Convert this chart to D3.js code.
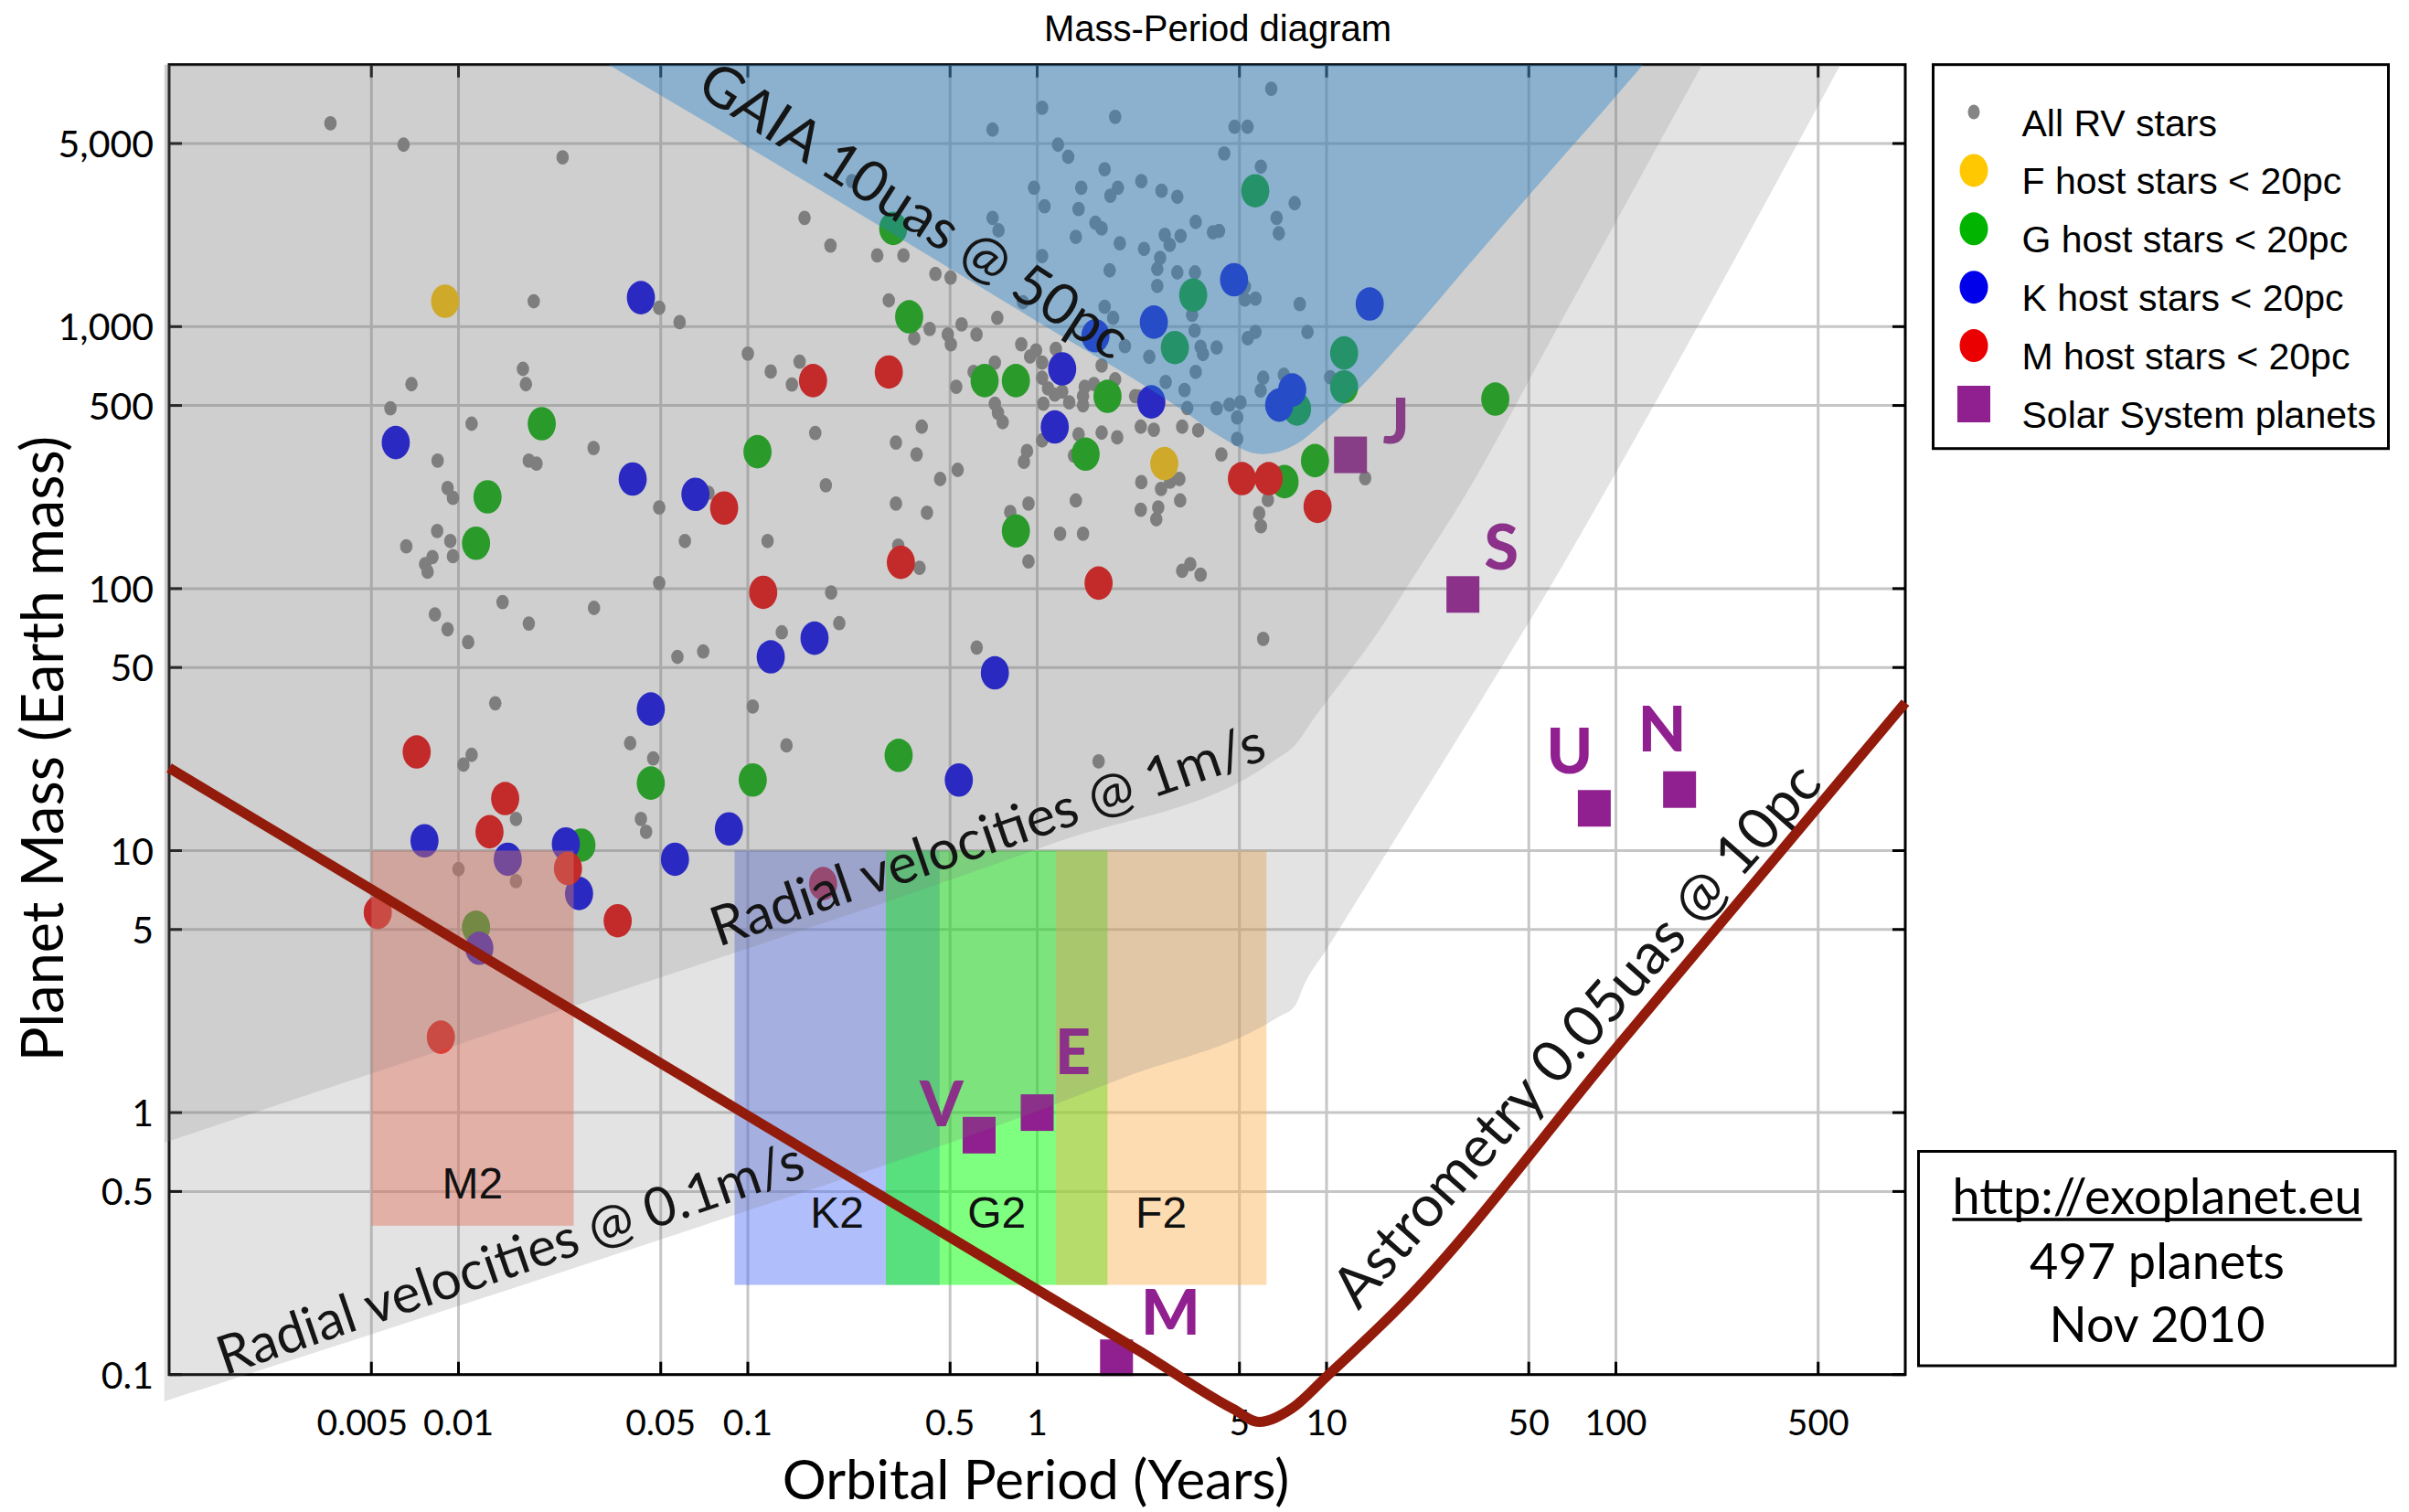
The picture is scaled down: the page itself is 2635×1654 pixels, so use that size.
<!DOCTYPE html>
<html>
<head>
<meta charset="utf-8">
<script src="https://cdn.jsdelivr.net/npm/d3@7"></script>
<style>
  html, body { margin: 0; padding: 0; background: #fff; }
  svg { display: block; }
</style>
</head>
<body>
<svg id="chart" width="2635" height="1654"></svg>
<script>
// ---------------- data ----------------
const xTickValues = [0.005, 0.01, 0.05, 0.1, 0.5, 1, 5, 10, 50, 100, 500];
const xTickLabels = ["0.005", "0.01", "0.05", "0.1", "0.5", "1", "5", "10", "50", "100", "500"];
const yTickValues = [0.1, 0.5, 1, 5, 10, 50, 100, 500, 1000, 5000];
const yTickLabels = ["0.1", "0.5", "1", "5", "10", "50", "100", "500", "1,000", "5,000"];

// All radial-velocity planets: orbital period (years) and mass (Earth masses)
const rvPeriod = [
  0.00361,0.00646,0.0229,0.157,0.0182,0.0494,0.0581,0.1,0.0167,0.12,0.151,0.142,0.00688,0.0171,0.00582,0.0111,0.0293,0.00847,0.0175,0.0186,
  0.171,0.00917,0.00957,0.0494,0.0731,0.00844,0.00937,0.0066,0.00813,0.00957,0.00767,0.00782,0.0606,0.117,0.0494,0.0142,0.0294,0.00829,0.0175,0.00917,
  0.0108,0.131,0.0571,0.0701,0.0134,0.104,0.0392,0.136,0.0111,0.0104,0.0471,0.0158,0.0427,0.0445,0.01,0.0158,
  6.44,1.04,1.86,0.701,4.81,5.33,1.18,1.28,4.43,5.93,1.71,0.229,2.29,0.975,1.42,1.9,1.79,2.69,3.05,1.06,
  1.39,7.76,0.701,6.72,1.59,3.53,0.735,1.67,4.05,4.25,6.84,1.36,2.76,3.13,1.93,2.87,2.34,1.04,2.66,2.6,
  1.78,3.05,3.51,2.6,0.893,5.22,5.22,5.68,8.08,1.71,3.43,1.83,3.5,5.68,8.59,5.34,2.01,3.67,3.74,4.17,
  2.44,3.53,6.04,5.92,7.12,10.3,2.78,3.23,2.24,3.3,4.17,4.62,5.04,4.91,4.91,3.6,4.33,
  0.193,0.28,0.345,0.445,0.502,0.307,0.425,0.548,0.491,0.503,0.617,0.376,0.728,0.881,0.991,0.945,1.04,1.16,0.714,1.04,
  0.525,0.603,1.67,0.714,0.732,0.76,1.09,1.15,1.05,1.22,1.29,1.46,1.44,1.44,1.57,1.86,2.18,2.28,2.53,3.17,
  1.67,1.89,1.39,1.04,0.922,0.9,1.34,0.399,0.325,0.383,0.531,0.462,0.186,2.29,2.68,2.88,3.1,2.62,3.12,2.28,
  2.58,1.36,0.325,0.416,0.933,0.807,1.2,1.44,0.933,0.331,0.392,3.17,3.38,3.67,0.194,0.207,0.618,
  13.6,5.85,5.93,6.27,6.04,1.63
];
const rvMass = [
  5970,4950,4430,2600,1250,1180,1040,789,690,674,735,601,603,603,488,426,344,308,308,300,
  393,242,222,204,232,166,152,145,132,133,124,116,152,152,105,88.9,84.4,79.7,73.6,70,
  62.5,68.1,54.9,57.6,36.5,35.5,25.7,25.2,23.2,21.3,22.5,13.2,13.2,11.8,8.5,7.65,
  8090,6850,6320,5650,5790,5790,4950,4450,4580,4080,3990,3590,3590,3390,3390,3390,3160,3300,3130,2880,
  2810,2960,2600,2600,2490,2510,2330,2370,2290,2320,2270,2200,2240,2220,2080,2050,1980,1860,1830,1660,
  1640,1610,1610,1430,1240,1420,1270,1280,1220,1190,1110,1080,966,955,954,903,843,838,786,833,
  767,672,638,570,655,641,615,573,540,489,488,504,514,450,373,402,325,
  2040,1870,1870,1590,1540,1260,979,1020,933,856,933,903,1080,856,811,769,729,822,729,638,
  589,672,710,508,469,432,581,550,508,565,514,589,543,501,604,629,543,415,404,415,
  394,378,388,368,335,305,322,415,361,325,284,262,248,255,240,256,262,204,217,200,
  184,217,211,195,211,196,162,162,127,146,120,117,124,113,96.6,73.8,59.6,
  264,194,173,218,64.3,21.9
];

// Planets around host stars within 20 pc, by spectral type
const fPeriod = [0.00899, 2.75];
const fMass = [1250, 300];
const gPeriod = [0.318,0.361,0.0194,0.0126,0.0115,0.108,0.658,0.844,1.75,1.47,0.844,3.46,2.99,5.67,11.5,11.5,7.91,9.12,7.16,38.3,0.0462,0.104,0.332,0.0266,0.0115];
const gMass = [2370,1090,426,224,149,333,622,622,542,326,166,1320,832,3300,793,589,485,308,256,529,18.1,18.6,23.1,10.5,5.1];
const kPeriod = [0.00607,0.0427,0.04,0.0659,0.12,0.17,0.0462,0.086,0.00763,0.0235,0.0148,0.056,0.0261,0.0118,0.714,0.536,1.22,1.15,1.59,2.53,2.48,4.79,14.1,7.61,6.86];
const kMass = [361,1290,262,229,54.9,64.7,34.7,12.1,10.9,10.6,9.27,9.27,6.86,4.24,47.7,18.6,690,414,923,1040,516,1510,1220,573,502];
const mPeriod = [0.168,0.307,0.0828,0.113,0.338,1.63,5.1,6.31,9.31,0.00717,0.0145,0.0128,0.0239,0.00526,0.0355,0.00869,0.182];
const mMass = [622,671,203,96.8,126,105,263,263,206,23.8,15.8,11.8,8.55,5.81,5.4,1.94,7.48];

// Solar System planets
const solarName = ["V", "E", "M", "J", "S", "U", "N"];
const solarPeriod = [0.63, 1.0, 1.88, 12.1, 29.6, 84.2, 166];
const solarMass = [0.82, 1.0, 0.116, 324, 95, 14.5, 17.1];

// Habitable-zone boxes for M2, K2, G2 and F2 stars
const zoneName = ["M2", "K2", "G2", "F2"];
const zonePeriodMin = [0.005, 0.09, 0.3, 1.16];
const zonePeriodMax = [0.025, 0.46, 1.75, 6.2];
const zoneMassMin = [0.37, 0.22, 0.22, 0.22];
const zoneMassMax = [10, 10, 10, 10];

// Detection limits
const rv1Period = [0.000964, 0.0217, 0.0877, 1.119, 6.735, 7.79, 9.01, 11.21, 14.38, 20.8, 30.35, 61.5, 198.6];
const rv1Mass = [0.768, 2.42, 4.03, 10.6, 22.4, 25.3, 31.8, 43.8, 63.4, 119, 230, 947, 10000];
const rv01Period = [0.000962, 0.0217, 0.0877, 1.119, 1.955, 6.735, 7.79, 8.38, 9.93, 16.1, 36.8, 61.5, 90.8, 597];
const rv01Mass = [0.0791, 0.242, 0.403, 1.06, 1.349, 2.30, 2.56, 3.09, 4.15, 9.78, 42.7, 109, 230, 10000];
const gaiaPeriod = [0.033, 0.0877, 0.98, 3.33, 4.25, 5.97, 7.79, 9.93, 20.1, 29.6, 52.9, 110, 124];
const gaiaMass = [10000, 5287, 1060, 463, 383, 326, 354, 438, 984, 1623, 3399, 8564, 10000];
const astroPeriod = [0.001, 0.01, 0.1, 1, 2.26, 4.75, 5.85, 7.55, 9.97, 18.2, 100, 1000];
const astroMass = [20.7, 4.49, 0.974, 0.211, 0.123, 0.074, 0.066, 0.074, 0.098, 0.185, 1.76, 36.7];

// ---------------- layout ----------------
const plot = { left: 185, right: 2084, top: 70.7, bottom: 1503.7 };
const x = d3.scaleLog().domain([0.001, 1000]).range([plot.left, plot.right]);
const y = d3.scaleLog().domain([0.1, 10000]).range([plot.bottom, plot.top]);

const GILL = "Lato, 'Open Sans', sans-serif";
const HELV = "'Liberation Sans', Arial, sans-serif";
const purple = "#901f8f";

const svg = d3.select("#chart");
const pts = (P, M) => P.map((p, i) => [p, M[i]]);

// gridlines
const grid = svg.append("g");
grid.selectAll("line.gx").data(xTickValues).join("line").attr("class", "gx")
  .attr("x1", d => x(d)).attr("x2", d => x(d))
  .attr("y1", plot.top).attr("y2", plot.bottom)
  .attr("stroke", "#c6c6c6").attr("stroke-width", 3);
grid.selectAll("line.gy").data(yTickValues).join("line").attr("class", "gy")
  .attr("x1", plot.left).attr("x2", plot.right)
  .attr("y1", d => y(d)).attr("y2", d => y(d))
  .attr("stroke", "#c6c6c6").attr("stroke-width", 3);

// planets
function dots(P, M, fill, rx, ry) {
  svg.append("g").selectAll("ellipse").data(pts(P, M)).join("ellipse")
    .attr("cx", d => x(d[0])).attr("cy", d => y(d[1]))
    .attr("rx", rx).attr("ry", ry).attr("fill", fill);
}
dots(rvPeriod, rvMass, "#838383", 6.8, 7.9);
dots(fPeriod, fMass, "#ffc600", 15.4, 18.3);
dots(gPeriod, gMass, "#00af00", 15.4, 18.3);
dots(kPeriod, kMass, "#0000ee", 15.4, 18.3);
dots(mPeriod, mMass, "#ee0000", 15.4, 18.3);

// habitable-zone boxes
const zoneFill = ["rgba(255,113,89,0.45)", "rgba(82,111,248,0.45)", "rgba(0,255,0,0.5)", "rgba(251,177,84,0.45)"];
svg.append("g").selectAll("rect").data(zoneName).join("rect")
  .attr("x", (d, i) => x(zonePeriodMin[i]))
  .attr("width", (d, i) => x(zonePeriodMax[i]) - x(zonePeriodMin[i]))
  .attr("y", (d, i) => y(zoneMassMax[i]))
  .attr("height", (d, i) => y(zoneMassMin[i]) - y(zoneMassMax[i]))
  .attr("fill", (d, i) => zoneFill[i]);

// Solar System planets with their initials
const letterOffset = { V: [-41, -10], E: [39, -42], M: [59, -25], J: [50, -13], S: [42, -27], U: [-27, -38], N: [-19, -42] };
const solar = svg.append("g");
solar.selectAll("rect").data(pts(solarPeriod, solarMass)).join("rect")
  .attr("x", d => x(d[0]) - 18).attr("y", d => y(d[1]) - 20)
  .attr("width", 36).attr("height", 40).attr("fill", purple);
solar.selectAll("text").data(solarName).join("text")
  .attr("x", (d, i) => x(solarPeriod[i]) + letterOffset[d][0])
  .attr("y", (d, i) => y(solarMass[i]) + letterOffset[d][1])
  .attr("text-anchor", "middle")
  .attr("font-family", GILL).attr("font-weight", 900).attr("font-size", 68)
  .attr("fill", purple).text(d => d);

// frame and inward ticks
const axes = svg.append("g").attr("stroke", "#000").attr("stroke-width", 3);
axes.append("rect").attr("x", plot.left).attr("y", plot.top)
  .attr("width", plot.right - plot.left).attr("height", plot.bottom - plot.top).attr("fill", "none");
const tl = 14;
xTickValues.forEach(v => {
  axes.append("line").attr("x1", x(v)).attr("x2", x(v)).attr("y1", plot.bottom).attr("y2", plot.bottom - tl);
  axes.append("line").attr("x1", x(v)).attr("x2", x(v)).attr("y1", plot.top).attr("y2", plot.top + tl);
});
yTickValues.forEach(v => {
  axes.append("line").attr("x1", plot.left).attr("x2", plot.left + tl).attr("y1", y(v)).attr("y2", y(v));
  axes.append("line").attr("x1", plot.right).attr("x2", plot.right - tl).attr("y1", y(v)).attr("y2", y(v));
});

// detection-limit shading
const boundary = d3.line().x(d => x(d[0])).y(d => y(d[1])).curve(d3.curveMonotoneX);
function regionAbove(P, M) {
  return boundary(pts(P, M)) + `L${x(P[0])},${y(10000)}Z`;
}
svg.append("path").attr("d", regionAbove(rv01Period, rv01Mass)).attr("fill", "rgba(119,119,119,0.206)");
svg.append("path").attr("d", regionAbove(rv1Period, rv1Mass)).attr("fill", "rgba(119,119,119,0.185)");
svg.append("path").attr("d", boundary(pts(gaiaPeriod, gaiaMass)) + "Z").attr("fill", "rgba(34,132,207,0.39)");

// box labels
svg.append("g").selectAll("text").data(zoneName).join("text")
  .attr("x", (d, i) => (x(zonePeriodMin[i]) + x(zonePeriodMax[i])) / 2)
  .attr("y", (d, i) => i === 0 ? 1311 : 1343)
  .attr("text-anchor", "middle").attr("font-family", HELV).attr("font-size", 48)
  .attr("fill", "#111").text(d => d);

// annotations along the limits
function note(text, cx, cy, angle, size) {
  svg.append("text")
    .attr("transform", `translate(${cx},${cy}) rotate(${angle})`)
    .attr("text-anchor", "middle").attr("dy", "0.35em")
    .attr("font-family", GILL).attr("font-size", size).attr("fill", "#151515")
    .text(text);
}
note("GAIA 10uas @ 50pc", 1000, 230, 32.8, 62);
note("Radial velocities @ 1m/s", 1080, 913, -18.9, 60);
note("Radial velocities @ 0.1m/s", 558, 1376, -18.9, 59);
note("Astrometry 0.05uas @ 10pc", 1724, 1132, -48.5, 63);

// tick labels
svg.append("g").selectAll("text").data(xTickValues).join("text")
  .attr("x", d => x(d) - (d === 0.005 ? 10 : 0)).attr("y", 1570)
  .attr("text-anchor", "middle").attr("font-family", GILL).attr("font-size", 39)
  .text((d, i) => xTickLabels[i]);
svg.append("g").selectAll("text").data(yTickValues).join("text")
  .attr("x", 168).attr("y", d => y(d) + 15)
  .attr("text-anchor", "end").attr("font-family", GILL).attr("font-size", 41)
  .text((d, i) => yTickLabels[i]);

// axis titles and chart title
svg.append("text").attr("x", 1133).attr("y", 1640).attr("text-anchor", "middle")
  .attr("font-family", GILL).attr("font-size", 60).text("Orbital Period (Years)");
svg.append("text").attr("transform", "translate(69,819) rotate(-90)").attr("text-anchor", "middle")
  .attr("font-family", GILL).attr("font-size", 63).text("Planet Mass (Earth mass)");
svg.append("text").attr("x", 1332).attr("y", 45).attr("text-anchor", "middle")
  .attr("font-family", HELV).attr("font-size", 40).text("Mass-Period diagram");

// legend
const legend = svg.append("g");
legend.append("rect").attr("x", 2114.5).attr("y", 70.7).attr("width", 498).attr("height", 420)
  .attr("fill", "#fff").attr("stroke", "#000").attr("stroke-width", 3);
const legendItems = [
  { label: "All RV stars", kind: "small", color: "#858585" },
  { label: "F host stars < 20pc", kind: "big", color: "#ffc800" },
  { label: "G host stars < 20pc", kind: "big", color: "#00b400" },
  { label: "K host stars < 20pc", kind: "big", color: "#0000ea" },
  { label: "M host stars < 20pc", kind: "big", color: "#ea0000" },
  { label: "Solar System planets", kind: "square", color: purple }
];
legendItems.forEach((it, i) => {
  const cy = 122.5 + i * 63.9;
  if (it.kind === "small") {
    legend.append("ellipse").attr("cx", 2159).attr("cy", cy).attr("rx", 6.5).attr("ry", 8).attr("fill", it.color);
  } else if (it.kind === "big") {
    legend.append("ellipse").attr("cx", 2159).attr("cy", cy).attr("rx", 15.5).attr("ry", 18).attr("fill", it.color);
  } else {
    legend.append("rect").attr("x", 2141).attr("y", cy - 20).attr("width", 36).attr("height", 40).attr("fill", it.color);
  }
  legend.append("text").attr("x", 2211.5).attr("y", cy + 26)
    .attr("font-family", HELV).attr("font-size", 41).text(it.label);
});

// source box
const info = svg.append("g");
info.append("rect").attr("x", 2098.5).attr("y", 1259.5).attr("width", 521.5).attr("height", 234.5)
  .attr("fill", "#fff").attr("stroke", "#000").attr("stroke-width", 3);
const url = info.append("text").attr("x", 2359.5).attr("y", 1328).attr("text-anchor", "middle")
  .attr("font-family", GILL).attr("font-size", 54).text("http://exoplanet.eu");
const ub = url.node().getBBox();
info.append("line").attr("x1", ub.x).attr("x2", ub.x + ub.width).attr("y1", 1334).attr("y2", 1334)
  .attr("stroke", "#000").attr("stroke-width", 3.5);
info.append("text").attr("x", 2359.5).attr("y", 1398.5).attr("text-anchor", "middle")
  .attr("font-family", GILL).attr("font-size", 54).text("497 planets");
info.append("text").attr("x", 2359.5).attr("y", 1467.5).attr("text-anchor", "middle")
  .attr("font-family", GILL).attr("font-size", 54).text("Nov 2010");

// astrometric detection limit
svg.append("path")
  .attr("d", d3.line().x(d => x(d[0])).y(d => y(d[1])).curve(d3.curveMonotoneX)(pts(astroPeriod, astroMass)))
  .attr("fill", "none").attr("stroke", "#921b0b").attr("stroke-width", 11).attr("stroke-linejoin", "round");
</script>
</body>
</html>
